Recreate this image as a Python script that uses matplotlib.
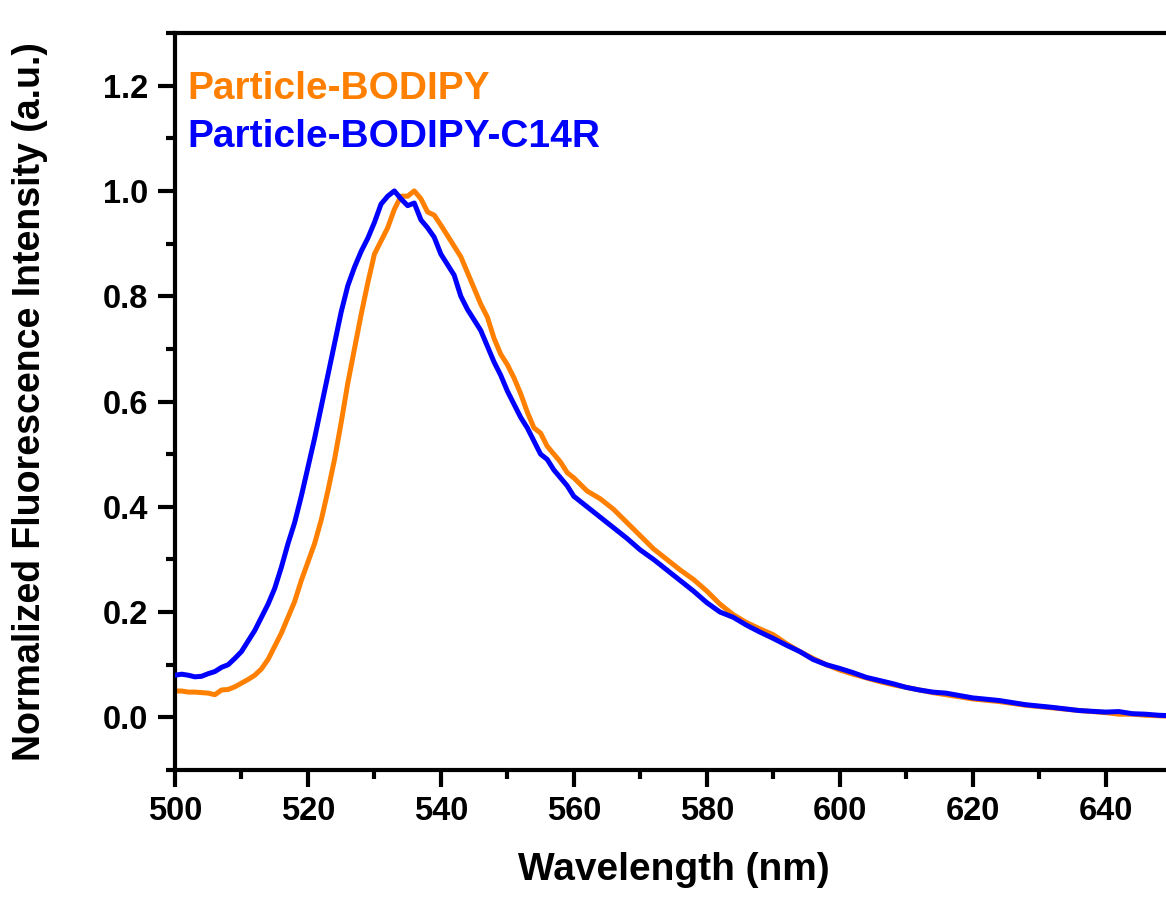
import matplotlib
matplotlib.use("Agg")
import matplotlib.pyplot as plt
from matplotlib.ticker import MultipleLocator
from matplotlib.lines import Line2D

# ---- data ----
wl_bodipy = [500, 501, 502, 503, 504, 505, 506, 507, 508, 509,
             510, 511, 512, 513, 514, 515, 516, 517, 518, 519,
             520, 521, 522, 523, 524, 525, 526, 527, 528, 529,
             530, 531, 532, 533, 534, 535, 536, 537, 538, 539,
             540, 541, 542, 543, 544, 545, 546, 547, 548, 549,
             550, 551, 552, 553, 554, 555, 556, 557, 558, 559,
             560, 562, 564, 566, 568, 570, 572, 574, 576, 578,
             580, 582, 584, 586, 588, 590, 592, 594, 596, 598,
             600, 602, 604, 606, 608, 610, 612, 614, 616, 620,
             624, 628, 632, 636, 640, 642, 644, 646, 648, 650]
int_bodipy = [0.050, 0.050, 0.048, 0.048, 0.047, 0.046, 0.043, 0.052, 0.053, 0.058,
              0.065, 0.072, 0.080, 0.092, 0.110, 0.135, 0.160, 0.190, 0.220, 0.260,
              0.295, 0.330, 0.375, 0.430, 0.490, 0.560, 0.635, 0.700, 0.765, 0.825,
              0.880, 0.905, 0.930, 0.965, 0.990, 0.990, 1.000, 0.985, 0.960, 0.954,
              0.935, 0.915, 0.895, 0.875, 0.845, 0.815, 0.785, 0.760, 0.720, 0.690,
              0.670, 0.645, 0.615, 0.580, 0.550, 0.540, 0.515, 0.500, 0.485, 0.465,
              0.455, 0.430, 0.415, 0.395, 0.370, 0.345, 0.320, 0.300, 0.280, 0.262,
              0.240, 0.215, 0.195, 0.180, 0.168, 0.157, 0.140, 0.125, 0.112, 0.100,
              0.090, 0.082, 0.075, 0.068, 0.062, 0.057, 0.052, 0.047, 0.043, 0.035,
              0.030, 0.023, 0.018, 0.013, 0.009, 0.006, 0.006, 0.004, 0.003, 0.002]

wl_c14r = [500, 501, 502, 503, 504, 505, 506, 507, 508, 509,
           510, 511, 512, 513, 514, 515, 516, 517, 518, 519,
           520, 521, 522, 523, 524, 525, 526, 527, 528, 529,
           530, 531, 532, 533, 534, 535, 536, 537, 538, 539,
           540, 541, 542, 543, 544, 545, 546, 547, 548, 549,
           550, 551, 552, 553, 554, 555, 556, 557, 558, 559,
           560, 562, 564, 566, 568, 570, 572, 574, 576, 578,
           580, 582, 584, 586, 588, 590, 592, 594, 596, 598,
           600, 602, 604, 606, 608, 610, 612, 614, 616, 620,
           624, 628, 632, 636, 640, 642, 644, 646, 648, 650]
int_c14r = [0.080, 0.082, 0.080, 0.077, 0.078, 0.083, 0.087, 0.095, 0.100, 0.112,
            0.125, 0.145, 0.165, 0.190, 0.215, 0.245, 0.285, 0.330, 0.370, 0.420,
            0.475, 0.530, 0.590, 0.650, 0.710, 0.770, 0.820, 0.855, 0.885, 0.910,
            0.940, 0.975, 0.990, 1.000, 0.985, 0.972, 0.977, 0.945, 0.930, 0.912,
            0.880, 0.860, 0.840, 0.800, 0.775, 0.755, 0.735, 0.705, 0.675, 0.650,
            0.620, 0.595, 0.570, 0.550, 0.525, 0.500, 0.490, 0.470, 0.455, 0.440,
            0.420, 0.400, 0.380, 0.360, 0.340, 0.318, 0.300, 0.280, 0.260, 0.240,
            0.218, 0.200, 0.190, 0.175, 0.162, 0.150, 0.137, 0.125, 0.110, 0.100,
            0.093, 0.085, 0.076, 0.070, 0.064, 0.057, 0.052, 0.048, 0.046, 0.037,
            0.032, 0.024, 0.019, 0.013, 0.010, 0.011, 0.007, 0.006, 0.004, 0.003]

labels = ["Particle-BODIPY", "Particle-BODIPY-C14R"]
colors = ["#FF8000", "#0000FF"]

plt.rcParams['font.family'] = ['Liberation Sans', 'DejaVu Sans']
plt.rcParams['font.weight'] = 'bold'

W, H = 1166, 897
fig = plt.figure(figsize=(W / 100, H / 100), dpi=100)
left, right, top, bottom = 175, 1172, 33, 770
ax = fig.add_axes([left / W, 1 - bottom / H, (right - left) / W, (bottom - top) / H])

ax.plot(wl_bodipy, int_bodipy, color=colors[0], lw=3.6, zorder=2)
ax.plot(wl_c14r, int_c14r, color=colors[1], lw=3.6, zorder=3)

ax.set_xlim(500, 650)
ax.set_ylim(-0.1, 1.3)
ax.xaxis.set_major_locator(MultipleLocator(20))
ax.xaxis.set_minor_locator(MultipleLocator(10))
ax.yaxis.set_major_locator(MultipleLocator(0.2))
ax.yaxis.set_minor_locator(MultipleLocator(0.1))
ax.yaxis.set_major_formatter(matplotlib.ticker.FormatStrFormatter('%.1f'))

for s in ax.spines.values():
    s.set_linewidth(3)
ax.spines['right'].set_visible(False)

ax.tick_params(which='major', direction='out', length=12, width=3, labelsize=23.5, pad=7)
ax.tick_params(which='minor', direction='out', length=6.5, width=3)
ax.tick_params(top=False, right=False, which='both')
for lab in ax.get_xticklabels() + ax.get_yticklabels():
    lab.set_fontweight('bold')

ax.set_xlabel("Wavelength (nm)", fontsize=28, fontweight='bold', labelpad=18)
ax.set_ylabel("Normalized Fluorescence Intensity (a.u.)", fontsize=27, fontweight='bold', labelpad=40)

handles = [Line2D([], [], color=c) for c in colors]
leg = ax.legend(handles, labels, loc='upper left',
                bbox_to_anchor=(187 / W, 1 - 71 / H), bbox_transform=fig.transFigure,
                frameon=False, handlelength=0, handletextpad=0, borderpad=0,
                borderaxespad=0, labelspacing=0.3, labelcolor=colors,
                prop={'size': 28, 'weight': 'bold'})
for h in leg.legend_handles:
    h.set_visible(False)

fig.savefig("out.png", dpi=100)
